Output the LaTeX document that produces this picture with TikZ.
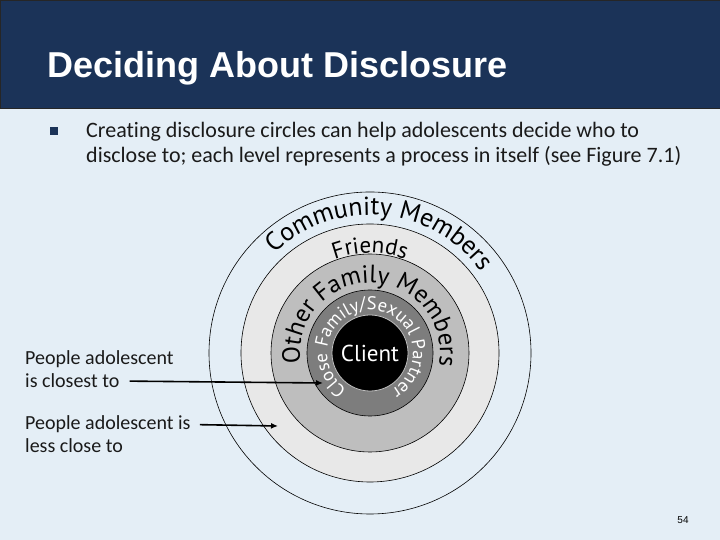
\documentclass[tikz,border=0pt]{standalone}
\usepackage{fontspec}
\setmainfont{Carlito}[Ligatures=NoCommon]
\newfontfamily\titlefont{Liberation Sans}
\newfontfamily\ringfont{PT Sans}
\usetikzlibrary{positioning}
\usetikzlibrary{arrows.meta}
\usetikzlibrary{decorations.text}
\definecolor{slidebg}{RGB}{228,238,246}
\definecolor{titlebar}{RGB}{27,51,88}
\definecolor{bodytext}{RGB}{26,26,26}
\definecolor{ringlight}{RGB}{232,232,232}
\definecolor{ringmid}{RGB}{190,190,190}
\definecolor{ringdark}{RGB}{125,125,125}
\tikzset{
  ring/.style={circle, draw=black, line width=0.6pt, inner sep=0pt, minimum size=#1},
  lbl/.style={anchor=base west, inner sep=0pt, text=bodytext, font=\fontsize{20}{24}\selectfont},
  bodyline/.style={anchor=base west, inner sep=0pt, text=bodytext, font=\fontsize{22}{25}\selectfont},
  pointer/.style={line width=1.6pt, -{Latex[length=7pt,width=6pt]}},
}

\begin{document}
\begin{tikzpicture}[x=1pt, y=1pt]
    \useasboundingbox (0,0) rectangle (720,540);
    \fill[slidebg] (0,0) rectangle (720,540);
    \fill[titlebar, draw=black!85, line width=0.8pt] (0,432) rectangle (720,540);
    \node[anchor=base west, inner sep=0pt, text=white, font=\titlefont\bfseries\fontsize{36}{36}\selectfont] (title) at (47,462) {Deciding About Disclosure};

    \node[fill=titlebar, minimum size=8pt, inner sep=0pt] (bullet) at (54,409) {};
    \node[bodyline] (body1) at (86,402) {Creating disclosure circles can help adolescents decide who to};
    \node[bodyline] (body2) at (86,377) {disclose to; each level represents a process in itself (see Figure 7.1)};

    \coordinate (ctr) at (370,187);
    \node[ring=322pt, fill=slidebg] (community) at (ctr) {};
    \node[ring=258pt, fill=ringlight] (friends) at (ctr) {};
    \node[ring=198pt, fill=ringmid] (family) at (ctr) {};
    \node[ring=126pt, fill=ringdark] (close) at (ctr) {};
    \node[ring=76pt, fill=black, draw=black!25, line width=0.8pt, text=white, font=\ringfont\fontsize{23}{23}\selectfont] (client) at (ctr) {Client};

    \path[decorate, decoration={text along path, text align=center,
        text={|\ringfont\fontsize{26}{26}\selectfont|Community Members}}]
      (ctr) ++(175:138) arc[start angle=175, end angle=-5, radius=138];
    \path[decorate, decoration={text along path, text align=center,
        text={|\ringfont\fontsize{23}{23}\selectfont|Friends}}]
      (ctr) ++(150:100) arc[start angle=150, end angle=30, radius=100];
    \path[decorate, decoration={text along path, text align=center,
        text={|\ringfont\fontsize{25}{25}\selectfont|Other Family Members}}]
      (ctr) ++(225:70) arc[start angle=225, end angle=-47, radius=70];
    \path[decorate, decoration={text along path, text align=center, text color=white,
        text={|\ringfont\fontsize{18.5}{18.5}\selectfont|Close Family/Sexual Partner}}]
      (ctr) ++(268:43) arc[start angle=268, end angle=-91, radius=43];

    \node[lbl] (near1) at (25,175) {People adolescent};
    \node[lbl] (near2) at (25,152) {is closest to};
    \node[lbl] (less1) at (25,110) {People adolescent is};
    \node[lbl] (less2) at (25,87) {less close to};
    \coordinate (neartip) at (323,157);
    \coordinate (lesstip) at (278,114);
    \draw[pointer] ([xshift=10pt]near2.east) -- (neartip);
    \draw[pointer] ([xshift=9pt]less1.east) -- (lesstip);

    \node[anchor=base, inner sep=0pt, font=\titlefont\fontsize{10}{12}\selectfont] (page) at (683,16) {54};
\end{tikzpicture}
\end{document}
